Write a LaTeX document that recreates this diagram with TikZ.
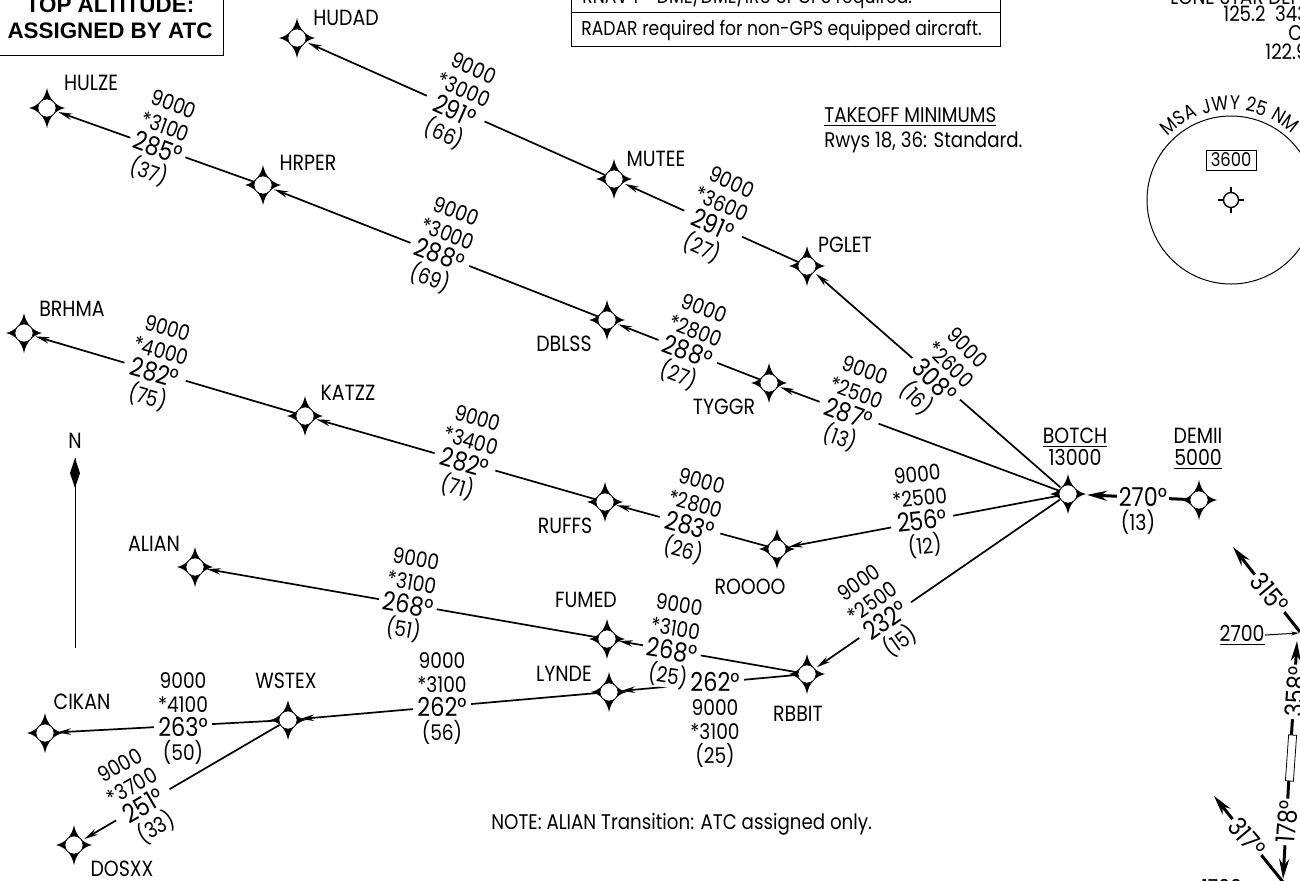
\documentclass[tikz,border=0pt]{standalone}
\usepackage{fontspec}
\setmainfont{Poppins}[FakeStretch=0.86]
\newfontfamily\boxfont{Liberation Sans}
\usepackage{tikz}
\usetikzlibrary{arrows.meta,decorations.text}

\newcommand{\fixpt}[3]{%
  \fill[shift={(#2,#3)}] (0,-20) .. controls (2,-9) and (9,-2) .. (18,0) .. controls (9,2) and (2,9) .. (0,20) .. controls (-2,9) and (-9,2) .. (-18,0) .. controls (-9,-2) and (-2,-9) .. cycle;
  \node[fixnode] (#1) at (#2,#3) {};}
\newcommand{\brg}[1]{{\fontsize{13}{11}\selectfont #1}}

\begin{document}
\begin{tikzpicture}[x=0.5pt, y=-0.5pt,
fixnode/.style={circle, draw, line width=0.3pt, fill=white, inner sep=0pt, minimum size=9pt, outer sep=1.5pt},
fixname/.style={inner sep=0pt, font=\fontsize{11}{11}\selectfont, align=center},
legnode/.style={rotate=#1, yshift=4pt, fill=white, inner xsep=2pt, inner ysep=0pt, align=center, font=\fontsize{10.8}{12}\selectfont},
legtop/.style={rotate=#1, yshift=-18.5pt, fill=white, inner xsep=2pt, inner ysep=0pt, align=center, font=\fontsize{10.8}{12}\selectfont},
chartnote/.style={inner sep=0pt, anchor=west, font=\fontsize{10.6}{12.4}\selectfont, align=left},
route/.style={line width=0.85pt, shorten <=-1pt, -{Stealth[length=7pt,width=3.2pt]}},
thickroute/.style={line width=1.5pt, -{Stealth[length=10pt,width=5pt]}},
thickbrg/.style={fill=white, inner sep=1pt, font=\fontsize{13}{13}\selectfont},
]
\useasboundingbox (0,0) rectangle (1300,880);
\clip (0,0) rectangle (1300,880);

%Fixes
\fixpt{hudad}{297}{38}
\fixpt{hulze}{47}{108}
\fixpt{hrper}{263}{185}
\fixpt{mutee}{614}{179}
\fixpt{pglet}{807}{266}
\fixpt{dblss}{607}{320}
\fixpt{tyggr}{769}{383}
\fixpt{botch}{1068}{494}
\fixpt{demii}{1199}{500}
\fixpt{brhma}{24}{333}
\fixpt{katzz}{305}{416}
\fixpt{ruffs}{605}{502}
\fixpt{roooo}{777}{549}
\fixpt{alian}{195}{567}
\fixpt{fumed}{607}{639}
\fixpt{lynde}{609}{692}
\fixpt{rbbit}{807}{674}
\fixpt{wstex}{288}{720}
\fixpt{cikan}{45}{733}
\fixpt{dosxx}{74}{845}

%Fix names
\node[fixname] (hudadname) at (346,18) {HUDAD};
\node[fixname] (hulzename) at (91,83) {HULZE};
\node[fixname] (hrpername) at (308,163) {HRPER};
\node[fixname] (muteename) at (656,159) {MUTEE};
\node[fixname] (pgletname) at (845,245) {PGLET};
\node[fixname] (dblssname) at (564,344) {DBLSS};
\node[fixname] (tyggrname) at (724,407) {TYGGR};
\node[fixname] (brhmaname) at (72,309) {BRHMA};
\node[fixname] (katzzname) at (348,393) {KATZZ};
\node[fixname] (ruffsname) at (565,526) {RUFFS};
\node[fixname] (rooooname) at (750,587) {ROOOO};
\node[fixname] (alianname) at (154,544) {ALIAN};
\node[fixname] (fumedname) at (586,600) {FUMED};
\node[fixname] (lyndename) at (564,674) {LYNDE};
\node[fixname] (rbbitname) at (798,714) {RBBIT};
\node[fixname] (wstexname) at (286,681) {WSTEX};
\node[fixname] (cikanname) at (82,702) {CIKAN};
\node[fixname] (dosxxname) at (122,869) {DOSXX};
\node[fixname] (botchname) at (1075,447) {\underline{BOTCH}\\13000};
\node[fixname] (demiiname) at (1198,449) {DEMII\\\underline{5000}};

%Lines
\draw[route] (mutee) -- (hudad);
\draw[route] (pglet) -- (mutee);
\draw[route] (botch) -- (pglet);
\draw[route] (hrper) -- (hulze);
\draw[route] (dblss) -- (hrper);
\draw[route] (tyggr) -- (dblss);
\draw[route] (botch) -- (tyggr);
\draw[route] (katzz) -- (brhma);
\draw[route] (ruffs) -- (katzz);
\draw[route] (roooo) -- (ruffs);
\draw[route] (botch) -- (roooo);
\draw[route] (fumed) -- (alian);
\draw[route] (rbbit) -- (fumed);
\draw[route] (rbbit) -- (lynde);
\draw[route] (botch) -- (rbbit);
\draw[route] (lynde) -- (wstex);
\draw[route] (wstex) -- (cikan);
\draw[thickroute, shorten >=3.5pt] (demii) -- (botch);

%Leg data
\node[legnode=-24] (leg1) at (455,110) {9000\\*3000\\\brg{291°}\\(66)};
\node[legnode=-24] (leg2) at (713,224) {9000\\*3600\\\brg{291°}\\(27)};
\node[legnode=-45] (leg3) at (935,380) {9000\\*2600\\\brg{308°}\\(16)};
\node[legnode=-20] (leg4) at (158,147) {9000\\*3100\\\brg{285°}\\(37)};
\node[legnode=-21] (leg5) at (440,254) {9000\\*3000\\\brg{288°}\\(69)};
\node[legnode=-21] (leg6) at (688,351) {9000\\*2800\\\brg{288°}\\(27)};
\node[legnode=-20] (leg7) at (849,413) {9000\\*2500\\\brg{287°}\\(13)};
\node[legnode=-16] (leg8) at (155,372) {9000\\*4000\\\brg{282°}\\(75)};
\node[legnode=-16] (leg9) at (465,462) {9000\\*3400\\\brg{282°}\\(71)};
\node[legnode=-15] (leg10) at (690,525) {9000\\*2800\\\brg{283°}\\(26)};
\node[legnode=6] (leg11) at (922,520) {9000\\*2500\\\brg{256°}\\(12)};
\node[legnode=-10] (leg12) at (408,604) {9000\\*3100\\\brg{268°}\\(51)};
\node[legnode=-9] (leg13) at (672,650) {9000\\*3100\\\brg{268°}\\(25)};
\node[legtop=0] (leg14) at (715,683) {\brg{262°}\\9000\\*3100\\(25)};
\node[legnode=35] (leg15) at (885,620) {9000\\*2500\\\brg{232°}\\(15)};
\node[legnode=0] (leg16) at (442,707) {9000\\*3100\\\brg{262°}\\(56)};
\node[legnode=0] (leg17) at (183,727) {9000\\*4100\\\brg{263°}\\(50)};
\draw[route] (wstex) -- (dosxx);
\node[legnode=30] (leg18) at (143,805) {9000\\*3700\\\brg{251°}\\(33)};
\node[thickbrg] (demiibrg) at (1143,497) {270°};
\node[fixname] (demiidist) at (1138,522) {(13)};

%Right side
\coordinate (apptop) at (1300,632);
\coordinate (apptip) at (1233,547);
\coordinate (holdtop) at (1297,641);
\coordinate (holdbot) at (1283,879);
\coordinate (outtop) at (1283,882);
\coordinate (outtip) at (1214,796);
\coordinate (gatefix) at (1299,633);
\draw[thickroute] (apptop) -- (apptip);
\draw[thickroute, {Stealth[length=10pt,width=5pt]}-{Stealth[length=10pt,width=5pt]}] (holdbot) -- (holdtop);
\draw[thickroute] (outtop) -- (outtip);
\node[thickbrg, rotate=-50] (brg315) at (1270,593) {315°};
\node[thickbrg, rotate=86] (brg358) at (1296,692) {358°};
\node[thickbrg, rotate=86] (brg178) at (1287,822) {178°};
\node[thickbrg, rotate=-50] (brg317) at (1247,837) {317°};
\node[rectangle, draw, line width=0.4pt, fill=white, inner sep=0pt, minimum width=4pt, minimum height=23pt, rotate=-4] (holdbox) at (1291,758) {};
\node[fixname, anchor=east] (alt2700) at (1265,635) {\underline{2700}};
\draw[line width=0.5pt, -{Stealth[length=4pt,width=2pt]}] (alt2700.east) -- (gatefix);
\node[fixname] (alt1700) at (1222,887) {1700};

%North arrow
\node[fixname] (northname) at (75,441) {N};
\coordinate (northfoot) at (75,648);
\coordinate (northtip) at (75,458);
\draw[line width=0.5pt] (northfoot) -- (northtip);
\fill (75,458) -- (80,473) -- (75,488) -- (70,473) -- cycle;

%Notes
\node[draw, line width=0.7pt, inner sep=0pt, minimum width=112.5pt, minimum height=28pt, anchor=north west] (boxalt) at (-2,-1) {};
\node[inner sep=0pt, align=center, font=\boxfont\bfseries\fontsize{11.2}{13}\selectfont] (boxalttext) at (110,18) {TOP ALTITUDE:\\ASSIGNED BY ATC};
\node[draw, line width=0.5pt, inner sep=0pt, minimum width=214.5pt, minimum height=35pt, anchor=south west] (reqnote) at (571,47) {};
\draw[line width=0.5pt] (571,12) -- (1000,12);
\node[chartnote, font=\fontsize{10}{12}\selectfont] (rnavtext) at (582,-3) {RNAV 1 - DME/DME/IRU or GPS required.};
\node[chartnote, font=\fontsize{10}{12}\selectfont] (radartext) at (581,30) {RADAR required for non-GPS equipped aircraft.};
\node[chartnote] (minstext) at (824,130) {\underline{TAKEOFF MINIMUMS}\\Rwys 18, 36: Standard.};
\node[chartnote] (alianote) at (491,824) {NOTE: ALIAN Transition: ATC assigned only.};
\node[chartnote] (ctl1) at (1170,-3) {LONE STAR DEP C};
\node[chartnote] (ctl2) at (1223,14) {125.2\ \ 343};
\node[chartnote] (ctl3) at (1288,33) {C};
\node[chartnote] (ctl4) at (1265,52) {122.9};

%MSA
\draw[line width=0.5pt] (1231,200) circle (84);
\path[decorate, decoration={text along path, text={|\fontsize{10}{11}\selectfont|MSA JWY 25 NM}, text align={fit to path}}] (1231,200) ++(225:90) arc[start angle=225, end angle=313, radius=90];
\node[draw, line width=0.5pt, inner sep=0pt, minimum width=25pt, minimum height=10pt, font=\fontsize{9.5}{10}\selectfont] (msabox) at (1231,160) {3600};
\node[circle, draw, line width=0.7pt, inner sep=0pt, minimum size=7.5pt] (msafix) at (1231,200) {};
\draw[line width=0.7pt] (msafix.north) -- ++(0,-5);
\draw[line width=0.7pt] (msafix.south) -- ++(0,5);
\draw[line width=0.7pt] (msafix.east) -- ++(5,0);
\draw[line width=0.7pt] (msafix.west) -- ++(-5,0);
\end{tikzpicture}
\end{document}
